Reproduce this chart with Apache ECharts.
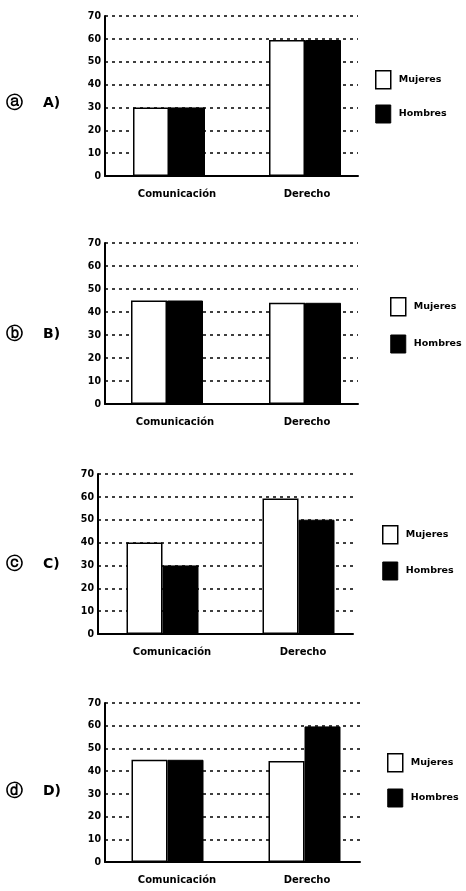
<!DOCTYPE html>
<html><head><meta charset="utf-8">
<script src="https://cdn.jsdelivr.net/npm/echarts@6/dist/echarts.min.js"></script>
<style>html,body{margin:0;padding:0;background:#fff}#c{width:466px;height:891px}</style>
</head><body><div id="c"></div>
<script>
const categories = ['Comunicación', 'Derecho'];
const panelNames = ['A)', 'B)', 'C)', 'D)'];
const panelMarks = ['ⓐ', 'ⓑ', 'ⓒ', 'ⓓ'];
const seriesNames = ['Mujeres', 'Hombres'];
const mujeresA = [30, 59.5];
const hombresA = [30, 59.5];
const mujeresB = [45, 44];
const hombresB = [45, 44];
const mujeresC = [40, 59.3];
const hombresC = [30, 50];
const mujeresD = [45, 44.5];
const hombresD = [45, 59.7];
const yMin = 0, yMax = 70, yStep = 10;

const mujeres = [mujeresA, mujeresB, mujeresC, mujeresD];
const hombres = [hombresA, hombresB, hombresC, hombresD];

// layout: axis frame (lines) and bar band per panel
const frames = [
  {x0: 105, x1: 358, top: 16, bottom: 176},
  {x0: 105, x1: 358, top: 243, bottom: 404},
  {x0: 98, x1: 353, top: 474, bottom: 634},
  {x0: 105, x1: 360, top: 703, bottom: 862}
];
const bands = [
  {left: 101, width: 272, off: [16, 4]},
  {left: 98, width: 276, off: [16, 4]},
  {left: 94.5, width: 272, off: [19, 9]},
  {left: 99, width: 274, off: [19, 5]}
];
const legendPos = [
  {left: 375, top: 70, gap: 15},
  {left: 390, top: 297, gap: 18},
  {left: 382, top: 525, gap: 17},
  {left: 387, top: 753, gap: 16}
];
const labelY = [105, 336, 566, 793];

const font = 'DejaVu Sans';
const option = {
  animation: false,
  backgroundColor: '#fff',
  grid: [], xAxis: [], yAxis: [], series: [], graphic: [], legend: []
};
for (let i = 0; i < 4; i++) {
  const f = frames[i], b = bands[i];
  const gL = 2 * i, gB = 2 * i + 1;
  option.grid.push({left: f.x0, width: f.x1 - f.x0, top: f.top, height: f.bottom - f.top});
  option.grid.push({left: b.left, width: b.width, top: f.top, height: f.bottom - f.top});
  // frame axes
  option.xAxis.push({
    type: 'category', gridIndex: gL, data: categories,
    axisLine: {lineStyle: {color: '#000', width: 2}},
    axisTick: {show: false}, axisLabel: {show: false}, splitLine: {show: false}
  });
  option.yAxis.push({
    type: 'value', gridIndex: gL, min: yMin, max: yMax, interval: yStep,
    axisLine: {show: true, lineStyle: {color: '#000', width: 2}},
    axisTick: {show: false},
    axisLabel: {color: '#000', fontFamily: 'DejaVu Sans Condensed, DejaVu Sans', fontSize: 10.5, fontWeight: 'bold', margin: 4},
    splitLine: {show: true, lineStyle: {color: '#000', width: 1.5, type: [3, 4]}}
  });
  // bar band axes
  option.xAxis.push({
    type: 'category', gridIndex: gB, data: categories,
    axisLine: {show: false}, axisTick: {show: false}, splitLine: {show: false},
    axisLabel: {
      color: '#000', fontFamily: font, fontSize: 10, fontWeight: 'bold', margin: 13,
      formatter: (v, idx) => (idx === 0 ? '{a|' : '{b|') + v + '}',
      rich: {
        a: {padding: [0, 0, 0, b.off[0]], fontFamily: font, fontSize: 10, fontWeight: 'bold', color: '#000'},
        b: {padding: [0, 0, 0, b.off[1]], fontFamily: font, fontSize: 10, fontWeight: 'bold', color: '#000'}
      }
    }
  });
  option.yAxis.push({
    type: 'value', gridIndex: gB, min: yMin, max: yMax, interval: yStep,
    axisLine: {show: false}, axisTick: {show: false}, axisLabel: {show: false}, splitLine: {show: false}
  });
  option.series.push({
    name: seriesNames[0], type: 'bar', xAxisIndex: gB, yAxisIndex: gB,
    data: mujeres[i], barWidth: 36, barGap: '0%',
    itemStyle: {color: '#fff', borderColor: '#000', borderWidth: 1.5}
  });
  option.series.push({
    name: seriesNames[1], type: 'bar', xAxisIndex: gB, yAxisIndex: gB,
    data: hombres[i], barWidth: 36, barGap: '0%',
    itemStyle: {color: '#000', borderColor: '#000', borderWidth: 1}
  });
  const p = legendPos[i];
  option.legend.push({
    orient: 'vertical', left: p.left, top: p.top, padding: 0,
    icon: 'rect', itemWidth: 15, itemHeight: 18, itemGap: p.gap,
    textStyle: {color: '#000', fontFamily: font, fontSize: 9.5, fontWeight: 'bold', padding: [0, 0, 0, 3]},
    data: [
      {name: seriesNames[0], itemStyle: {color: '#fff', borderColor: '#000', borderWidth: 1.5}},
      {name: seriesNames[1], itemStyle: {color: '#000', borderColor: '#000', borderWidth: 1}}
    ]
  });
  option.graphic.push({
    type: 'text', left: 6, top: labelY[i] - 10,
    style: {text: panelMarks[i], fill: '#000', font: 'bold 17px DejaVu Sans'}
  });
  option.graphic.push({
    type: 'text', left: 43, top: labelY[i] - 9,
    style: {text: panelNames[i], fill: '#000', font: 'bold 14px DejaVu Sans'}
  });
}
const chart = echarts.init(document.getElementById('c'), null, {renderer: 'canvas'});
chart.setOption(option);
</script>
</body></html>
